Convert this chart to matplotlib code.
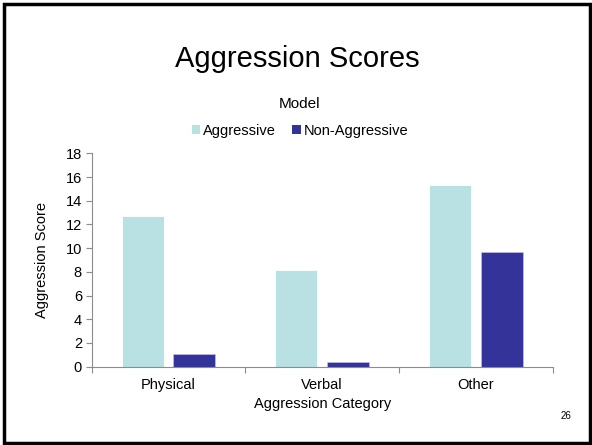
import matplotlib
matplotlib.use("Agg")
import matplotlib.pyplot as plt
from matplotlib.patches import Rectangle, Patch
import numpy as np

plt.rcParams['font.family'] = ['Liberation Sans', 'DejaVu Sans']

categories = ["Physical", "Verbal", "Other"]
series_names = ["Aggressive", "Non-Aggressive"]
aggressive = [12.7, 8.15, 15.35]
non_aggressive = [1.05, 0.4, 9.65]
y_ticks = [0, 2, 4, 6, 8, 10, 12, 14, 16, 18]

light = "#B9E0E3"
dark = "#333399"
axis_gray = "#8C8C8C"

W, H = 592, 445
fig = plt.figure(figsize=(W / 100, H / 100), dpi=100)

# slide frame
fig.patches.append(Rectangle((3.5 / W, 2.5 / H), 586 / W, 439 / H,
                             transform=fig.transFigure, fill=False,
                             ec="black", lw=2.5))

ax = fig.add_axes([91.7 / W, 1 - 366.7 / H, 461 / W, 213.4 / H])
x = np.arange(len(categories))
bw = 0.272
off = 0.168
ax.bar(x - off, aggressive, bw, color=light, edgecolor="white", linewidth=0.6)
ax.bar(x + off, non_aggressive, bw, color=dark, edgecolor="#C8C8E8", linewidth=0.4)

ax.set_xlim(-0.5, 2.5)
ax.set_ylim(0, 18)
ax.set_yticks(y_ticks)
ax.set_yticklabels([str(v) for v in y_ticks], fontsize=10.5)
ax.set_xticks(x)
ax.set_xticklabels(categories, fontsize=10.5)
ax.tick_params(axis="x", which="major", length=0, pad=8)
ax.set_xticks([-0.5, 0.5, 1.5, 2.5], minor=True)
ax.tick_params(axis="x", which="minor", length=4, color=axis_gray, width=0.8)
ax.tick_params(axis="y", length=4, color=axis_gray, width=0.8, pad=3)
for s in ["top", "right"]:
    ax.spines[s].set_visible(False)
for s in ["left", "bottom"]:
    ax.spines[s].set_color(axis_gray)
    ax.spines[s].set_linewidth(0.8)

ax.set_xlabel("Aggression Category", fontsize=10.5, labelpad=4)
ax.set_ylabel("Aggression Score", fontsize=10.5, labelpad=12)

fig.text(297 / W, 1 - 59 / H, "Aggression Scores", fontsize=21,
         ha="center", va="center")
fig.text(300 / W, 1 - 104 / H, "Model", fontsize=11, ha="center", va="center")

handles = [Patch(facecolor=light), Patch(facecolor=dark)]
fig.legend(handles, series_names, loc="center", ncol=2, frameon=False,
           bbox_to_anchor=(300 / W, 1 - 130.5 / H), fontsize=10.5,
           handlelength=0.6, handleheight=0.6, handletextpad=0.2,
           columnspacing=1.1, borderaxespad=0)

fig.text(566 / W, 1 - 416 / H, "26", fontsize=7, ha="center", va="center")

fig.savefig("out.png", dpi=100)
